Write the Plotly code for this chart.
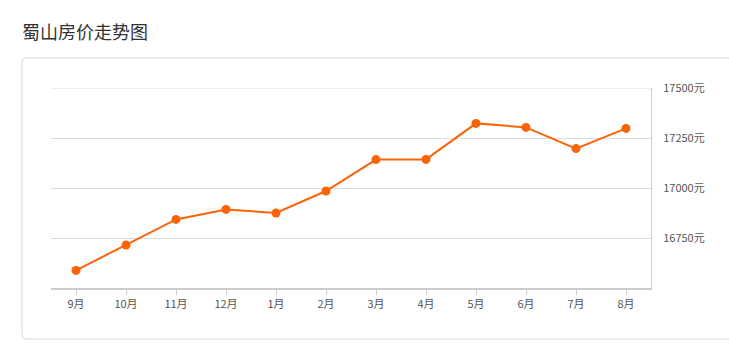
import plotly.graph_objects as go

months = ["9月", "10月", "11月", "12月", "1月", "2月", "3月", "4月", "5月", "6月", "7月", "8月"]
prices = [16588, 16715, 16843, 16893, 16875, 16985, 17142, 17143, 17323, 17303, 17197, 17298]
ytick_vals = [16750, 17000, 17250, 17500]
ytick_text = [f"{v}元" for v in ytick_vals]
title_text = "蜀山房价走势图"

W, H = 729, 347
L, R, T, B = 51, 651, 88, 288  # plot area in pixels

def px(x):
    return (x - L) / (R - L)

def py(y):
    return (B - y) / (B - T)

FONT = "Noto Sans CJK SC, Microsoft YaHei, sans-serif"
ORANGE = "#f96409"

# rounded panel path (pixel coords -> paper)
x0, x1, y0, y1, r = 22, 745, 58, 339, 4
pts = [
    ("M", x0 + r, y0), ("L", x1 - r, y0), ("Q", x1, y0, x1, y0 + r),
    ("L", x1, y1 - r), ("Q", x1, y1, x1 - r, y1), ("L", x0 + r, y1),
    ("Q", x0, y1, x0, y1 - r), ("L", x0, y0 + r), ("Q", x0, y0, x0 + r, y0),
]
path = ""
for p in pts:
    cmd = p[0]
    coords = p[1:]
    segs = []
    for i in range(0, len(coords), 2):
        segs.append(f"{px(coords[i]):.5f},{py(coords[i+1]):.5f}")
    path += cmd + " " + " ".join(segs) + " "
path += "Z"

fig = go.Figure()
fig.add_trace(go.Scatter(
    x=list(range(len(months))), y=prices, mode="lines+markers",
    line=dict(color=ORANGE, width=2),
    marker=dict(color=ORANGE, size=9),
    hoverinfo="skip", showlegend=False,
))

shapes = [dict(
    type="path", xref="paper", yref="paper", path=path,
    line=dict(color="#dadada", width=1), fillcolor="rgba(0,0,0,0)",
    layer="below",
)]
# top gridline (plotly skips gridlines at the range edge)
shapes.append(dict(
    type="line", xref="paper", yref="y", x0=0, x1=1,
    y0=max(ytick_vals), y1=max(ytick_vals),
    line=dict(color="#dcdcdc", width=1), layer="below",
))

fig.update_layout(
    width=W, height=H,
    margin=dict(l=L, r=W - R, t=T, b=H - B),
    paper_bgcolor="white", plot_bgcolor="white",
    font=dict(family=FONT, size=11, color="#555"),
    xaxis=dict(
        range=[-0.5, len(months) - 0.5],
        tickmode="array", tickvals=list(range(len(months))), ticktext=months,
        showgrid=False, zeroline=False,
        showline=True, linecolor="#ccc", linewidth=1.5,
        ticks="outside", ticklen=5, tickcolor="#ccc", tickwidth=1,
        tickfont=dict(size=11, color="#555"),
        fixedrange=True,
    ),
    yaxis=dict(
        range=[16500, 17500], side="right",
        tickmode="array", tickvals=ytick_vals, ticktext=ytick_text,
        showgrid=True, gridcolor="#dcdcdc", gridwidth=1,
        zeroline=False,
        showline=True, linecolor="#ccc", linewidth=1,
        ticks="", ticklabelstandoff=9,
        tickfont=dict(size=11, color="#555"),
        fixedrange=True,
    ),
    shapes=shapes,
    annotations=[dict(
        text=title_text, xref="paper", yref="paper",
        x=px(20), y=py(31), xanchor="left", yanchor="middle",
        showarrow=False, font=dict(family=FONT, size=18, color="#333"),
    )],
)

fig.write_html("out.html")
